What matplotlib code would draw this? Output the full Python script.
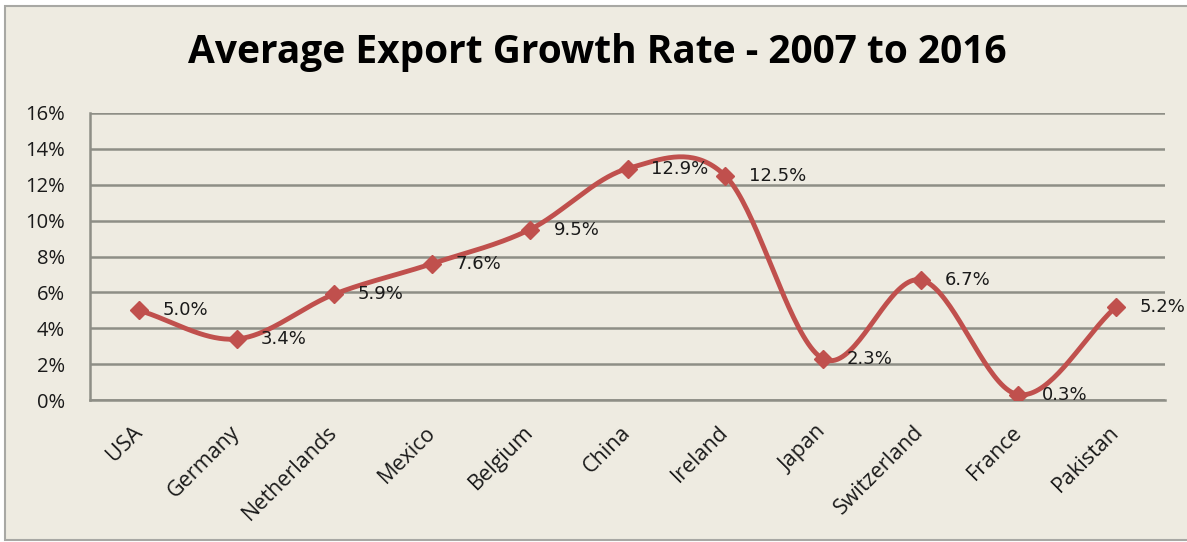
import matplotlib
matplotlib.use("Agg")
import matplotlib.pyplot as plt
from matplotlib.patches import Rectangle
from matplotlib.ticker import FuncFormatter, MultipleLocator
import numpy as np

countries = ["USA", "Germany", "Netherlands", "Mexico", "Belgium", "China",
             "Ireland", "Japan", "Switzerland", "France", "Pakistan"]
growth = [5.0, 3.4, 5.9, 7.6, 9.5, 12.9, 12.5, 2.3, 6.7, 0.3, 5.2]
title = "Average Export Growth Rate - 2007 to 2016"

BG = "#EEEBE1"
LINE = "#C0504D"
GRID = "#8E8E86"
TEXT = "#1a1a1a"

W, H = 1187, 542
fig = plt.figure(figsize=(W / 100, H / 100), dpi=100, facecolor="white")

# chart area panel with thin grey border (drawn on its own background axes)
bg = fig.add_axes([0, 0, 1, 1], zorder=0)
bg.set_axis_off()
bg.set_xlim(0, W)
bg.set_ylim(H, 0)
bg.add_patch(Rectangle((5, 6), W + 20, 534, facecolor=BG,
                       edgecolor="#A8A8A4", linewidth=1.5))

ax = fig.add_axes([90 / W, 1 - 400 / H, (1165 - 90) / W, (400 - 113) / H],
                  zorder=2)
ax.set_facecolor(BG)


def catmull_rom(y, n=40):
    """Smoothed curve through the points (Catmull-Rom / Hermite)."""
    y = np.asarray(y, float)
    m = len(y)
    t = np.zeros(m)
    t[1:-1] = (y[2:] - y[:-2]) / 2
    t[0] = y[1] - y[0]
    t[-1] = y[-1] - y[-2]
    xs, ys = [], []
    for i in range(m - 1):
        s = np.linspace(0, 1, n, endpoint=(i == m - 2))
        h00 = 2 * s**3 - 3 * s**2 + 1
        h10 = s**3 - 2 * s**2 + s
        h01 = -2 * s**3 + 3 * s**2
        h11 = s**3 - s**2
        xs.append(i + s)
        ys.append(h00 * y[i] + h10 * t[i] + h01 * y[i + 1] + h11 * t[i + 1])
    return np.concatenate(xs), np.concatenate(ys)


x = np.arange(len(countries))
sx, sy = catmull_rom(growth)
ax.plot(sx, sy, color=LINE, linewidth=3.5, solid_capstyle="round", zorder=3)
ax.plot(x, growth, linestyle="none", marker="D", markersize=9.5,
        color=LINE, zorder=4)

for xi, v in zip(x, growth):
    ax.annotate(f"{v:.1f}%", (xi, v), xytext=(17, 0), textcoords="offset points",
                ha="left", va="center", fontsize=13, color=TEXT,
                family="DejaVu Sans", zorder=5)

ax.set_xlim(-0.5, len(countries) - 0.5)
ax.set_ylim(0, 16)
ax.yaxis.set_major_locator(MultipleLocator(2))
ax.yaxis.set_major_formatter(FuncFormatter(lambda v, p: f"{v:.0f}%"))
ax.grid(axis="y", color=GRID, linewidth=1.8)
ax.set_axisbelow(True)

for side in ("top", "right"):
    ax.spines[side].set_visible(False)
for side in ("left", "bottom"):
    ax.spines[side].set_color(GRID)
    ax.spines[side].set_linewidth(1.8)

ax.set_xticks(x)
ax.set_xticklabels(countries, rotation=45, ha="right", va="center",
                   rotation_mode="anchor", fontsize=15.5, family="Open Sans",
                   color=TEXT)
ax.tick_params(axis="x", length=0, pad=21)
ax.tick_params(axis="y", length=0, pad=18, labelsize=14.5, labelcolor=TEXT)
for lab in ax.get_yticklabels():
    lab.set_family("Open Sans")

fig.text(597 / W, 1 - 52 / H, title, ha="center", va="center",
         fontsize=28, fontweight="bold", family="Open Sans", color="black")

fig.savefig("out.png", dpi=100, facecolor="white")
